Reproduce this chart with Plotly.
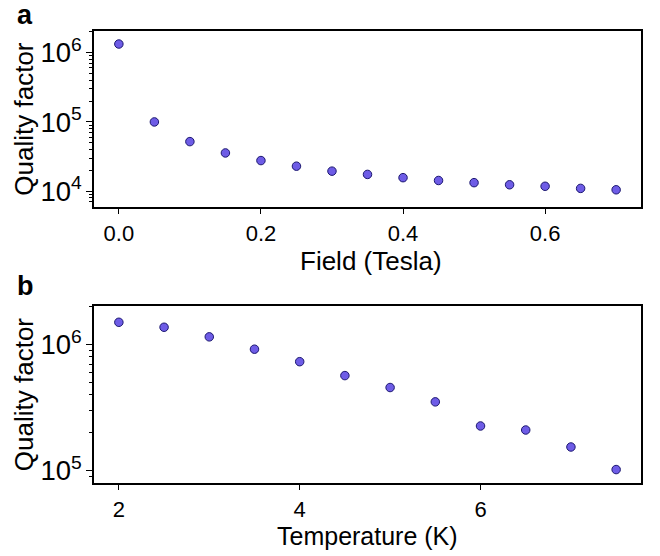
import plotly.graph_objects as go

field = [0.0, 0.05, 0.10, 0.15, 0.20, 0.25, 0.30, 0.35, 0.40, 0.45, 0.50, 0.55, 0.60, 0.65, 0.70]
q_field = [1.33e6, 1.0e5, 5.2e4, 3.57e4, 2.77e4, 2.30e4, 1.95e4, 1.75e4, 1.57e4, 1.43e4, 1.33e4, 1.24e4, 1.18e4, 1.10e4, 1.05e4]

temperature = [2.0, 2.5, 3.0, 3.5, 4.0, 4.5, 5.0, 5.5, 6.0, 6.5, 7.0, 7.5]
q_temp = [1.50e6, 1.37e6, 1.15e6, 9.18e5, 7.31e5, 5.67e5, 4.56e5, 3.51e5, 2.26e5, 2.10e5, 1.54e5, 1.02e5]

x_ticks_a = [0.0, 0.2, 0.4, 0.6]
x_ticktext_a = ["0.0", "0.2", "0.4", "0.6"]
x_ticks_b = [2, 4, 6]

FONT = "Liberation Sans, Arial, sans-serif"
TICK = 22
TITLE = 26
marker = dict(size=8.5, color="#6e5ce6", line=dict(color="#1c1870", width=1))

fig = go.Figure()
fig.add_trace(go.Scatter(x=field, y=q_field, mode="markers", marker=marker,
                         xaxis="x", yaxis="y", showlegend=False))
fig.add_trace(go.Scatter(x=temperature, y=q_temp, mode="markers", marker=marker,
                         xaxis="x2", yaxis="y2", showlegend=False))

axcommon = dict(showline=True, linecolor="black", linewidth=1.6, mirror=True,
                ticks="outside", ticklen=6, tickwidth=1.3, tickcolor="black",
                showgrid=False, zeroline=False,
                tickfont=dict(family=FONT, size=TICK, color="black"))
minor = dict(ticks="outside", ticklen=3.5, tickwidth=1, tickcolor="black", dtick="D1", showgrid=False)

H = 556.0
def py(p):
    return 1 - p / H

fig.update_layout(
    width=660, height=556,
    margin=dict(l=0, r=0, t=0, b=0),
    plot_bgcolor="white", paper_bgcolor="white",
    xaxis=dict(domain=[94/660, 641/660], anchor="y", range=[-0.035, 0.735],
               tickvals=x_ticks_a, ticktext=x_ticktext_a, **axcommon),
    yaxis=dict(domain=[py(208), py(31)], anchor="x", type="log", range=[3.78, 6.315],
               dtick=1, exponentformat="power", minor=minor, **axcommon),
    xaxis2=dict(domain=[94/660, 641/660], anchor="y2", range=[1.725, 7.775],
                tickvals=x_ticks_b, **axcommon),
    yaxis2=dict(domain=[py(486), py(308)], anchor="x2", type="log", range=[4.906, 6.307],
                dtick=1, exponentformat="power", minor=minor, **axcommon),
    annotations=[
        dict(text="Field (Tesla)", x=371/660, y=py(263), xref="paper", yref="paper",
             xanchor="center", yanchor="middle", showarrow=False,
             font=dict(family=FONT, size=TITLE, color="black")),
        dict(text="Temperature (K)", x=367/660, y=py(540), xref="paper", yref="paper",
             xanchor="center", yanchor="middle", showarrow=False,
             font=dict(family=FONT, size=25, color="black")),
        dict(text="Quality factor", x=24/660, y=py(119.5), xref="paper", yref="paper",
             xanchor="center", yanchor="middle", textangle=-90, showarrow=False,
             font=dict(family=FONT, size=TITLE, color="black")),
        dict(text="Quality factor", x=24/660, y=py(397), xref="paper", yref="paper",
             xanchor="center", yanchor="middle", textangle=-90, showarrow=False,
             font=dict(family=FONT, size=TITLE, color="black")),
        dict(text="<b>a</b>", x=25/660, y=py(15), xref="paper", yref="paper",
             xanchor="center", yanchor="middle", showarrow=False,
             font=dict(family=FONT, size=27, color="black")),
        dict(text="<b>b</b>", x=25/660, y=py(288), xref="paper", yref="paper",
             xanchor="center", yanchor="middle", showarrow=False,
             font=dict(family=FONT, size=27, color="black")),
    ],
)

fig.write_html("out.html")
